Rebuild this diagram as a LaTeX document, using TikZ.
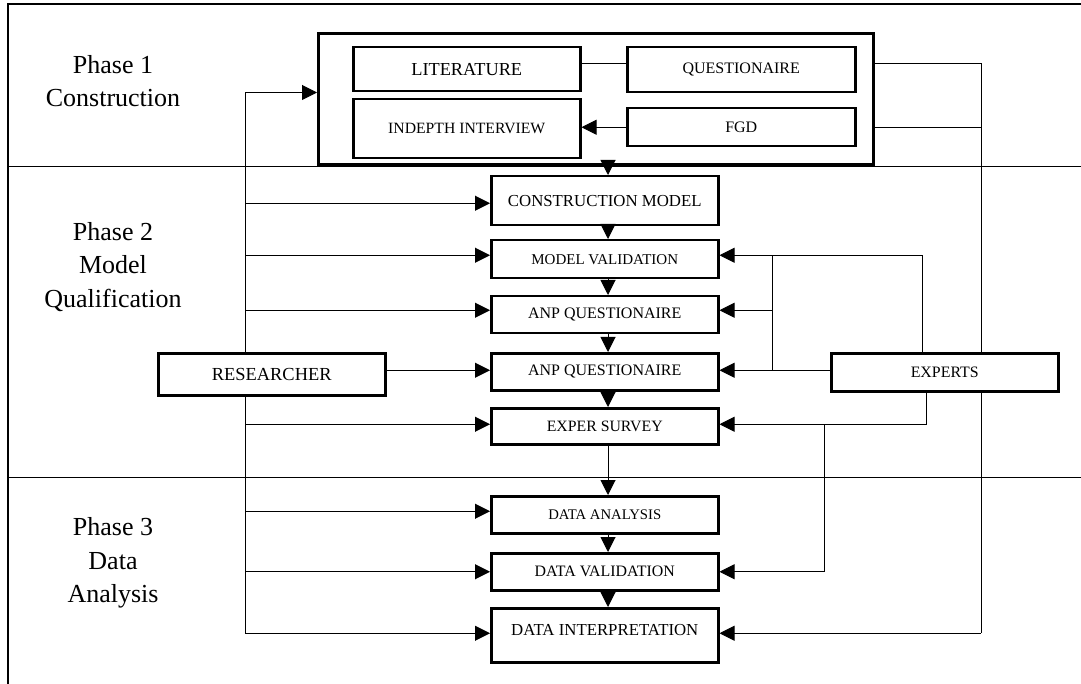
\documentclass[tikz,border=0pt]{standalone}
\usepackage{fontspec}
\setmainfont{Liberation Serif}
\usetikzlibrary{arrows.meta,backgrounds}
\begin{document}
\begin{tikzpicture}[x=1pt,y=-1pt,
  box/.style={draw, line width=2.5pt, fill=white, inner sep=0pt, anchor=north west, minimum width=227pt},
  fsz/.style={font=\fontsize{#1}{#1}\selectfont},
  phase/.style={align=center, font=\fontsize{26}{33.5}\selectfont},
  conn/.style={line width=1pt},
  arr/.style={line width=1pt, -{Triangle[length=15pt,width=15pt]}},
  rule/.style={line width=1pt}
]
\useasboundingbox (0,0) rectangle (1081,684);

% phase labels
\node[phase] (p1) at (113,81) {Phase 1\\Construction};
\node[phase] (p2) at (113,267) {Phase 2\\Model\\Qualification};
\node[phase] (p3) at (113,563) {Phase 3\\Data\\Analysis};

% phase 1 box and its content
\node[box, line width=3pt, minimum width=555pt, minimum height=131pt] (ph) at (317,32) {};
\node[box, minimum height=44pt, fsz=18.3] (lit) at (352,46) {LITERATURE};
\node[box, minimum height=59pt, fsz=15.7] (ind) at (352,98) {INDEPTH INTERVIEW};
\node[box, minimum width=228pt, minimum height=45pt, fsz=16] (que) at (626,46) {QUESTIONAIRE};
\node[box, minimum width=228pt, minimum height=38pt, fsz=16] (fgd) at (626,107) {FGD};

% central column
\node[box, minimum height=49pt, fsz=16.8] (cm) at (490,175) {CONSTRUCTION MODEL};
\node[box, minimum height=38pt, fsz=15] (mv) at (490,239) {MODEL VALIDATION};
\node[box, minimum height=37pt, fsz=16] (aq1) at (490,295) {ANP QUESTIONAIRE};
\node[box, minimum height=37pt, fsz=16] (aq2) at (490,352) {ANP QUESTIONAIRE};
\node[box, minimum height=36pt, fsz=15.8] (es) at (490,407) {EXPER SURVEY};
\node[box, minimum height=37pt, fsz=14.7] (da) at (490,495) {DATA ANALYSIS};
\node[box, minimum height=37pt, fsz=15.9] (dv) at (490,552) {DATA VALIDATION};
\node[box, minimum height=54pt, fsz=16.8, text depth=10pt] (di) at (490,607) {DATA INTERPRETATION};

% actors
\node[box, minimum height=42pt, fsz=18.4] (res) at (157,352) {RESEARCHER};
\node[box, minimum height=38pt, fsz=15.9] (exp) at (830,352) {EXPERTS};

% helper coordinates
\coordinate (bus) at (245,0);
\coordinate (ax) at (608,0);
\coordinate (rl) at (981,0);
\coordinate (ex1) at (922,0);
\coordinate (ex2) at (772,0);
\coordinate (ex3) at (926,0);
\coordinate (ex4) at (824,0);
\coordinate (lq) at ([yshift=6pt]lit.east);
\coordinate (ph-l) at ([yshift=6.5pt]ph.west);
\coordinate (cm-l) at ([yshift=-2.5pt]cm.west);
\coordinate (mv-l) at ([yshift=4pt]mv.west);
\coordinate (mv-r) at ([yshift=4pt]mv.east);
\coordinate (aq1-l) at ([yshift=4.5pt]aq1.west);
\coordinate (aq1-r) at ([yshift=4.5pt]aq1.east);
\coordinate (aq2-l) at ([yshift=1.5pt]aq2.west);
\coordinate (aq2-r) at ([yshift=1.5pt]aq2.east);
\coordinate (es-l) at ([yshift=2pt]es.west);
\coordinate (es-r) at ([yshift=2pt]es.east);
\coordinate (da-l) at ([yshift=3.5pt]da.west);
\coordinate (dv-l) at (dv.west);
\coordinate (dv-r) at (dv.east);
\coordinate (di-l) at ([yshift=2pt]di.west);
\coordinate (di-r) at ([yshift=2pt]di.east);

\begin{scope}[on background layer]
  % frame and phase separators
  \draw[line width=2pt] (1081,4) -- (8,4) -- (8,684);
  \draw[rule] (8,167) -- (1081,167);
  \draw[rule] (8,477) -- (1081,477);
  % lines passing behind boxes
  \draw[conn] (bus |- ph-l) -- (bus |- di-l);
  \draw[conn] (ph.east |- lq) -- (rl |- lq) -- (rl |- di-r);
\end{scope}

% phase 1 internal links
\draw[conn] (lq) -- (lq -| que.west);
\draw[arr] (fgd.west) -- (fgd.west -| ind.east);
\draw[conn] (ph.east |- fgd.east) -- (rl |- fgd.east);

% researcher arrows
\draw[arr] (bus |- ph-l) -- (ph-l);
\draw[arr] (bus |- cm-l) -- (cm-l);
\draw[arr] (bus |- mv-l) -- (mv-l);
\draw[arr] (bus |- aq1-l) -- (aq1-l);
\draw[arr] (res.east |- aq2-l) -- (aq2-l);
\draw[arr] (bus |- es-l) -- (es-l);
\draw[arr] (bus |- da-l) -- (da-l);
\draw[arr] (bus |- dv-l) -- (dv-l);
\draw[arr] (bus |- di-l) -- (di-l);

% experts arrows
\draw[arr] (ex1 |- exp.north) -- (ex1 |- mv-r) -- (mv-r);
\draw[conn] (ex2 |- mv-r) -- (ex2 |- aq2-r);
\draw[arr] (ex2 |- aq1-r) -- (aq1-r);
\draw[arr] (exp.west |- aq2-r) -- (aq2-r);
\draw[arr] (ex3 |- exp.south) -- (ex3 |- es-r) -- (es-r);
\draw[arr] (ex4 |- es-r) -- (ex4 |- dv-r) -- (dv-r);
\draw[arr] (rl |- di-r) -- (di-r);

% main flow
\draw[arr] (ax |- ph.south) -- (ax |- cm.north);
\draw[arr] (ax |- cm.south) -- (ax |- mv.north);
\draw[arr] (ax |- mv.south) -- (ax |- aq1.north);
\draw[arr] (ax |- aq1.south) -- (ax |- aq2.north);
\draw[arr] (ax |- aq2.south) -- (ax |- es.north);
\draw[arr] (ax |- es.south) -- (ax |- da.north);
\draw[arr] (ax |- da.south) -- (ax |- dv.north);
\draw[arr] (ax |- dv.south) -- (ax |- di.north);
\end{tikzpicture}
\end{document}
